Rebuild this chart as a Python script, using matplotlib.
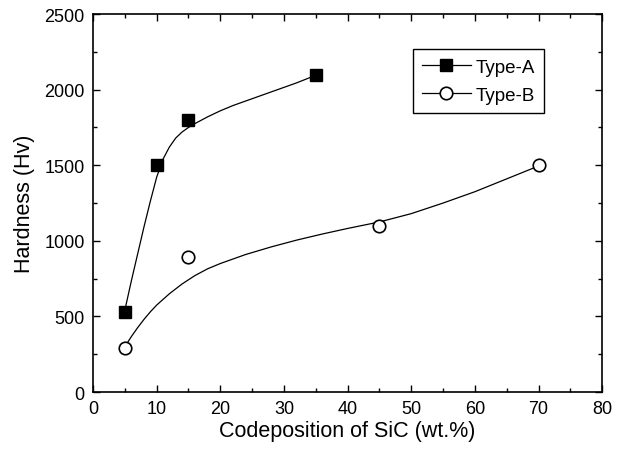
import matplotlib
matplotlib.use("Agg")
import matplotlib.pyplot as plt
from matplotlib.lines import Line2D
from matplotlib.ticker import MultipleLocator

plt.rcParams["font.family"] = ["Liberation Sans", "DejaVu Sans"]

# measured points
sic_a = [5, 10, 15, 35]
hard_a = [530, 1500, 1800, 2100]
sic_b = [5, 15, 45, 70]
hard_b = [290, 890, 1100, 1500]

# fitted curves
fit_x_a = [5, 6, 7, 8, 9, 10, 11, 12, 13, 14, 15, 16, 18, 20, 22, 24, 26, 28, 30, 32, 35]
fit_y_a = [540, 730, 910, 1090, 1260, 1420, 1540, 1620, 1680, 1720, 1750, 1775,
           1820, 1860, 1895, 1925, 1955, 1985, 2015, 2045, 2095]
fit_x_b = [5, 6, 7, 8, 9, 10, 12, 14, 16, 18, 20, 24, 28, 32, 36, 40, 45, 50, 55, 60, 65, 70]
fit_y_b = [300, 365, 425, 480, 530, 575, 650, 715, 770, 815, 850, 910, 960, 1005,
           1045, 1082, 1125, 1180, 1250, 1325, 1410, 1495]

fig, ax = plt.subplots(figsize=(6.24, 4.56), dpi=100)
fig.subplots_adjust(left=0.149, right=0.965, top=0.967, bottom=0.138)

ax.plot(fit_x_a, fit_y_a, color="black", lw=0.9)
ax.plot(fit_x_b, fit_y_b, color="black", lw=0.9)
ax.plot(sic_a, hard_a, ls="none", marker="s", ms=9, color="black", zorder=3)
ax.plot(sic_b, hard_b, ls="none", marker="o", ms=9, mfc="white", mec="black", mew=1.2, zorder=3)

ax.set_xlim(0, 80)
ax.set_ylim(0, 2500)
ax.xaxis.set_major_locator(MultipleLocator(10))
ax.xaxis.set_minor_locator(MultipleLocator(5))
ax.yaxis.set_major_locator(MultipleLocator(500))
ax.yaxis.set_minor_locator(MultipleLocator(250))
ax.tick_params(which="both", direction="in", top=True, right=True, labelsize=13, width=1, pad=6)
ax.tick_params(which="major", length=5)
ax.tick_params(which="minor", length=3)
for s in ax.spines.values():
    s.set_linewidth(1.2)

ax.set_xlabel("Codeposition of SiC (wt.%)", fontsize=15.5, labelpad=2)
ax.set_ylabel("Hardness (Hv)", fontsize=15.5, labelpad=7)

handles = [
    Line2D([], [], color="black", lw=0.9, marker="s", ms=9),
    Line2D([], [], color="black", lw=0.9, marker="o", ms=9, mfc="white", mec="black", mew=1.2),
]
leg = ax.legend(handles, ["Type-A", "Type-B"], loc="upper right", bbox_to_anchor=(0.886, 0.907),
                borderaxespad=0, fontsize=13.5, fancybox=False, edgecolor="black", framealpha=1,
                handlelength=2.6, handletextpad=0.25, borderpad=0.5, labelspacing=0.58)
leg.get_frame().set_linewidth(1)

fig.savefig("out.png", dpi=100)
